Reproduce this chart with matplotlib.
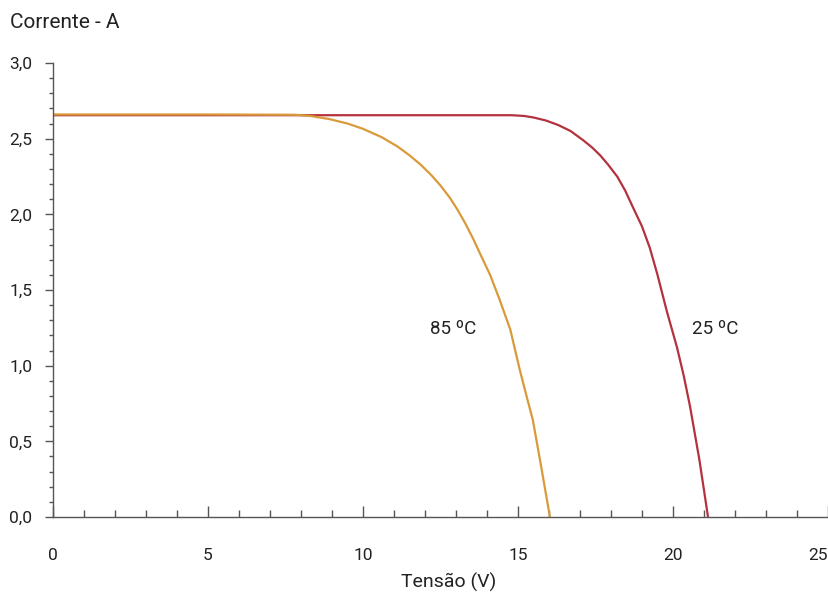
import numpy as np
import matplotlib
matplotlib.use("Agg")
import matplotlib.pyplot as plt
from matplotlib.ticker import MultipleLocator, FixedFormatter, FixedLocator

plt.rcParams['font.family'] = ['Roboto', 'DejaVu Sans']

# curva a 25 ºC (tensão V, corrente A)
v25 = [0, 5, 10, 14.8, 15.2, 15.5, 15.9, 16.3, 16.7, 17.1, 17.4, 17.65, 17.9, 18.2, 18.45,
       18.7, 19.0, 19.25, 19.5, 19.8, 20.13, 20.35, 20.55, 20.85, 21.13]
i25 = [2.655, 2.655, 2.655, 2.655, 2.65, 2.64, 2.62, 2.59, 2.55, 2.49, 2.44, 2.39, 2.33, 2.25, 2.16,
       2.05, 1.92, 1.78, 1.60, 1.36, 1.12, 0.93, 0.73, 0.38, 0.0]

# curva a 85 ºC
v85 = [0, 5, 7.8, 8.3, 8.9, 9.5, 10.0, 10.6, 11.1, 11.5, 11.85, 12.2, 12.5, 12.8, 13.05, 13.3,
       13.55, 13.8, 14.1, 14.4, 14.75, 15.06, 15.3, 15.48, 15.75, 16.03]
i85 = [2.66, 2.66, 2.658, 2.65, 2.63, 2.60, 2.565, 2.51, 2.45, 2.39, 2.33, 2.26, 2.19, 2.11, 2.03, 1.94,
       1.84, 1.73, 1.60, 1.44, 1.24, 0.97, 0.78, 0.64, 0.33, 0.0]

yticks = [0.0, 0.5, 1.0, 1.5, 2.0, 2.5, 3.0]
ylabels = ['0,0', '0,5', '1,0', '1,5', '2,0', '2,5', '3,0']
xticks = [0, 5, 10, 15, 20, 25]

fig = plt.figure(figsize=(8.29, 5.97), dpi=100)
ax = fig.add_axes([53 / 829, 1 - 517 / 597, 775 / 829, 454 / 597])

ax.plot(v25, i25, color='#b3323e', lw=1.6, solid_capstyle='butt', solid_joinstyle='round')
ax.plot(v85, i85, color='#d99a3a', lw=1.6, solid_capstyle='butt', solid_joinstyle='round')

ax.set_xlim(0, 25)
ax.set_ylim(0, 3.0)

ax.spines['top'].set_visible(False)
ax.spines['right'].set_visible(False)
for s in ['left', 'bottom']:
    ax.spines[s].set_color('#555555')
    ax.spines[s].set_linewidth(1.0)

ax.xaxis.set_major_locator(FixedLocator(xticks))
ax.xaxis.set_minor_locator(MultipleLocator(1))
ax.yaxis.set_major_locator(FixedLocator(yticks))
ax.yaxis.set_major_formatter(FixedFormatter(ylabels))
ax.yaxis.set_minor_locator(MultipleLocator(0.1))

ax.tick_params(axis='x', which='major', direction='in', length=8, width=1, color='#555555',
               pad=22, labelsize=12.5, labelcolor='#222222')
ax.tick_params(axis='x', which='minor', direction='in', length=5, width=1, color='#555555')
ax.tick_params(axis='y', which='major', direction='out', length=6, width=1, color='#555555',
               pad=9, labelsize=12.5, labelcolor='#222222')
ax.tick_params(axis='y', which='minor', direction='out', length=3, width=1, color='#555555')

# o último rótulo (25) fica encostado à direita
last = ax.get_xticklabels()[-1]
last.set_horizontalalignment('right')

ax.set_xlabel('Tensão (V)', fontsize=14, color='#222222')
ax.xaxis.set_label_coords(0.51, -0.145)
ax.xaxis.label.set_va('center')

fig.text(10 / 829, 1 - 22 / 597, 'Corrente - A', fontsize=15, color='#222222', va='center', ha='left')

ax.text(12.15, 1.24, '85 ºC', fontsize=13.5, color='#222222', va='center', ha='left')
ax.text(20.6, 1.24, '25 ºC', fontsize=13.5, color='#222222', va='center', ha='left')

fig.savefig('out.png', dpi=100)
